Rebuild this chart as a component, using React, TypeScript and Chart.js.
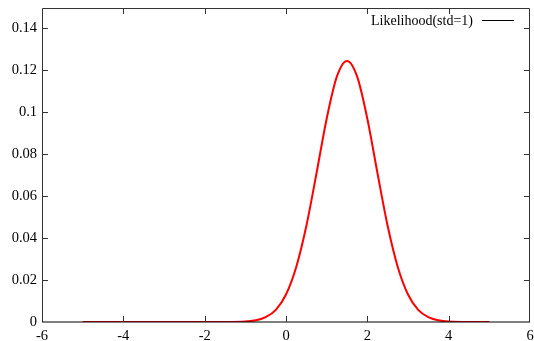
import React, { useEffect, useRef } from "react";
import { Chart, registerables } from "chart.js";

Chart.register(...registerables);

// Data
const xValues = [-5, -4, -3, -2, -1.5, -1, -0.75, -0.5, -0.25, 0, 0.25, 0.5, 0.75, 1, 1.25, 1.5, 1.75, 2, 2.25, 2.5, 2.75, 3, 3.25, 3.5, 3.75, 4, 4.5, 5];
const likelihood = [0, 0, 0, 0, 0, 0.0002, 0.0008, 0.0023, 0.0058, 0.0131, 0.0261, 0.0457, 0.0708, 0.0968, 0.1168, 0.1243, 0.1168, 0.0968, 0.0708, 0.0457, 0.0261, 0.0131, 0.0058, 0.0023, 0.0008, 0.0002, 0, 0];
const seriesLabel = "Likelihood(std=1)";
const xTicks = [-6, -4, -2, 0, 2, 4, 6];
const xTickLabels = ["-6", "-4", "-2", "0", "2", "4", "6"];
const yTicks = [0, 0.02, 0.04, 0.06, 0.08, 0.1, 0.12, 0.14];
const yTickLabels = ["0", "0.02", "0.04", "0.06", "0.08", "0.1", "0.12", "0.14"];

const FONT_FAMILY = "'Liberation Serif', 'Times New Roman', serif";
const TICK_FONT_SIZE = 14.5;
const KEY_FONT_SIZE = 14;

const framePlugin = {
  id: "gnuplotFrame",
  afterDatasetsDraw(chart: any) {
    const ctx = chart.ctx;
    const a = chart.chartArea;
    const xs = chart.scales.x;
    const ys = chart.scales.y;
    ctx.save();
    // border (left, top, right)
    ctx.strokeStyle = "#333";
    ctx.lineWidth = 1;
    ctx.beginPath();
    ctx.moveTo(Math.round(a.left) + 0.5, Math.round(a.bottom));
    ctx.lineTo(Math.round(a.left) + 0.5, Math.round(a.top) + 0.5);
    ctx.lineTo(Math.round(a.right) - 0.5, Math.round(a.top) + 0.5);
    ctx.lineTo(Math.round(a.right) - 0.5, Math.round(a.bottom));
    ctx.stroke();
    // bottom border, semi-transparent so the red curve darkens under it
    ctx.strokeStyle = "rgba(0,0,0,0.5)";
    ctx.lineWidth = 2;
    ctx.beginPath();
    ctx.moveTo(a.left, Math.round(a.bottom));
    ctx.lineTo(a.right, Math.round(a.bottom));
    ctx.stroke();
    // inward ticks on all sides
    const tl = 6;
    ctx.strokeStyle = "#333";
    ctx.lineWidth = 1;
    ctx.beginPath();
    xs.ticks.forEach((t: any) => {
      const px = Math.round(xs.getPixelForValue(t.value)) + 0.5;
      if (px <= a.left + 1 || px >= a.right - 1) return;
      ctx.moveTo(px, a.bottom);
      ctx.lineTo(px, a.bottom - tl);
      ctx.moveTo(px, a.top);
      ctx.lineTo(px, a.top + tl);
    });
    ys.ticks.forEach((t: any) => {
      const py = Math.round(ys.getPixelForValue(t.value)) + 0.5;
      if (py >= a.bottom - 1 || py <= a.top + 1) return;
      ctx.moveTo(a.left, py);
      ctx.lineTo(a.left + tl, py);
      ctx.moveTo(a.right, py);
      ctx.lineTo(a.right - tl, py);
    });
    ctx.stroke();
    // gnuplot-style key: label then line sample
    const label = chart.data.datasets[0].label;
    ctx.font = `${KEY_FONT_SIZE}px ${FONT_FAMILY}`;
    ctx.fillStyle = "#000";
    ctx.textAlign = "right";
    ctx.textBaseline = "middle";
    const ky = a.top + 13;
    ctx.fillText(label, a.right - 57, ky);
    ctx.strokeStyle = "#000";
    ctx.lineWidth = 1;
    ctx.beginPath();
    ctx.moveTo(a.right - 48, Math.round(ky) - 0.5);
    ctx.lineTo(a.right - 16, Math.round(ky) - 0.5);
    ctx.stroke();
    ctx.restore();
  },
};

export default function App() {
  const ref = useRef<HTMLCanvasElement | null>(null);
  useEffect(() => {
    document.body.style.margin = "0";
    const canvas = ref.current;
    if (!canvas) return;
    const chart = new Chart(canvas, {
      type: "line",
      data: {
        datasets: [
          {
            label: seriesLabel,
            data: xValues.map((x, i) => ({ x, y: likelihood[i] })),
            borderColor: "#ff0000",
            borderWidth: 2,
            pointRadius: 0,
            fill: false,
            cubicInterpolationMode: "monotone",
          },
        ],
      },
      options: {
        responsive: false,
        animation: false,
        devicePixelRatio: 1,
        layout: { padding: { top: 8, right: 4, left: 0, bottom: 0 } },
        plugins: { legend: { display: false }, tooltip: { enabled: false } },
        scales: {
          x: {
            type: "linear",
            min: -6,
            max: 6,
            grid: { display: false, drawTicks: false },
            border: { display: false },
            afterBuildTicks: (s: any) => {
              s.ticks = xTicks.map((v) => ({ value: v }));
            },
            afterFit: (s: any) => {
              s.height = 19;
              s.paddingLeft = 0;
              s.paddingRight = 0;
            },
            ticks: {
              padding: 5,
              color: "#000",
              font: { family: FONT_FAMILY, size: TICK_FONT_SIZE },
              maxRotation: 0,
              autoSkip: false,
              callback: (v: any) => xTickLabels[xTicks.indexOf(Number(v))] ?? "",
            },
          },
          y: {
            type: "linear",
            min: 0,
            max: 0.1495,
            grid: { display: false, drawTicks: false },
            border: { display: false },
            afterBuildTicks: (s: any) => {
              s.ticks = yTicks.map((v) => ({ value: v }));
            },
            afterFit: (s: any) => {
              s.width = 42;
              s.paddingTop = 0;
              s.paddingBottom = 0;
            },
            ticks: {
              padding: 5,
              color: "#000",
              font: { family: FONT_FAMILY, size: TICK_FONT_SIZE },
              autoSkip: false,
              callback: (v: any) => yTickLabels[yTicks.indexOf(Number(v))] ?? "",
            },
          },
        },
      },
      plugins: [framePlugin],
    } as any);
    return () => chart.destroy();
  }, []);
  return <canvas ref={ref} width={534} height={341} style={{ display: "block", width: 534, height: 341 }} />;
}
